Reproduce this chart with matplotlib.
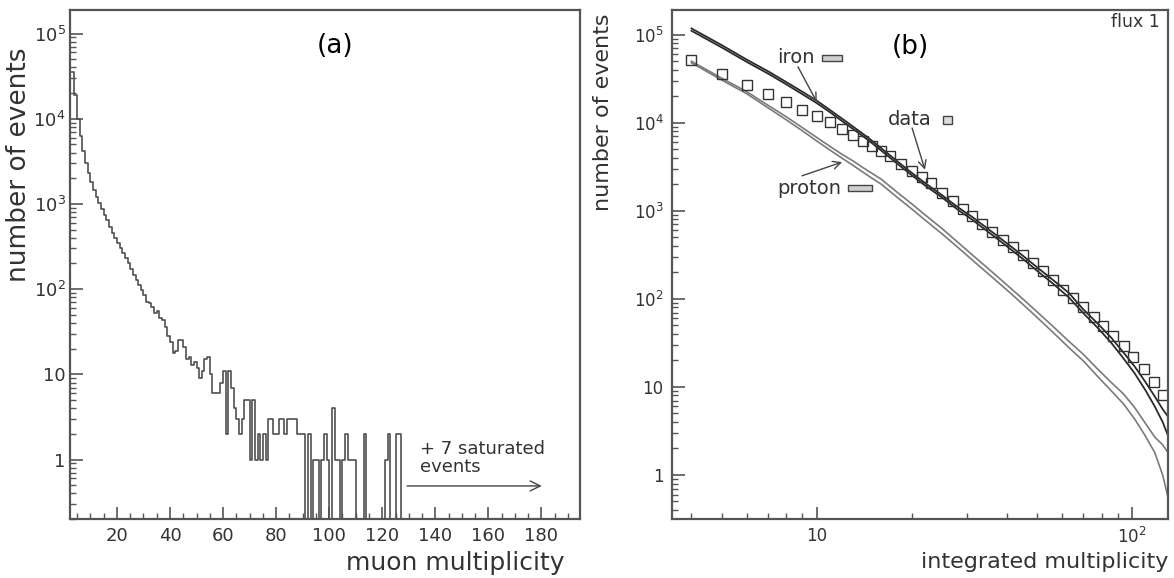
import numpy as np
import matplotlib
matplotlib.use("Agg")
import matplotlib.pyplot as plt
from matplotlib.patches import Rectangle
from matplotlib.ticker import FixedLocator, MultipleLocator, NullFormatter

# (a) muon multiplicity histogram, one bin per unit starting at 3
hist_first_bin = 3
hist_counts = [35000, 19000, 10000, 6200, 4200, 3000, 2300, 1800, 1450, 1200,
               1020, 880, 750, 640, 540, 460, 400, 345, 300, 262,
               230, 200, 172, 145, 128, 112, 98, 86, 70, 68,
               62, 53, 55, 46, 44, 36, 28, 24, 18, 19,
               25, 25, 21, 15, 16, 13, 14, 12, 9, 11,
               15, 16, 10, 6, 6, 6, 8, 11, 2, 11,
               7, 4, 3, 2, 3, 5, 5, 1, 5, 1,
               2, 1, 2, 1, 3, 3, 2, 2, 3, 3,
               2, 3, 3, 3, 3, 2, 2, 2, 0, 2,
               0, 1, 1, 0, 1, 2, 1, 0, 4, 1,
               1, 0, 1, 2, 1, 1, 1, 0, 0, 0,
               2, 0, 0, 0, 0, 0, 0, 0, 1, 2,
               0, 0, 2, 2]

# (b) integrated multiplicity: measured points
data_x = [4, 5, 6, 7, 8, 9, 10, 11, 12, 13, 14, 15, 16, 17, 18.5, 20, 21.5, 23,
          25, 27, 29, 31, 33.5, 36, 39, 42, 45, 48.5, 52, 56, 60.5, 65, 70,
          75.5, 81, 87, 94, 101, 109, 117, 125]
data_y = [52000, 36000, 27000, 21300, 17100, 14100, 11900, 10300, 8600, 7280,
          6240, 5400, 4730, 4160, 3420, 2850, 2410, 2060,
          1615, 1290, 1050, 870, 706, 581, 468, 384, 319, 257, 206, 162, 127, 101.5, 80.6,
          63, 49.3, 38.4, 28.9, 21.9, 16.1, 11.3, 8.1]

# simulated bands (upper / lower edge) for iron and proton primaries
sim_x = [4, 5, 6, 7, 8, 9, 10, 11, 12, 13, 14, 15, 16, 18, 20, 22, 25, 28, 31, 35,
         40, 45, 50, 56, 63, 70, 78, 86, 94, 102, 110, 118, 125, 130]
iron_hi = [118000, 76000, 52000, 38500, 29000, 22500, 17800, 14000, 11200, 9100,
           7500, 6200, 5150, 3650, 2700, 2080, 1500, 1100, 860, 620,
           430, 310, 228, 165, 117, 76, 52, 36, 24.5, 17, 11.5, 7.8, 5.6, 4.6]
iron_lo = [111000, 71500, 49000, 36200, 27300, 21100, 16700, 13200, 10500, 8550,
           7050, 5830, 4840, 3430, 2540, 1950, 1410, 1030, 800, 575,
           398, 285, 208, 150, 104, 69, 46.5, 31.5, 21, 14.2, 9.3, 6, 4, 2.8]
proton_hi = [50000, 32000, 22500, 15800, 11700, 8800, 6800, 5400, 4400, 3700,
             3100, 2650, 2290, 1620, 1200, 905, 625, 440, 320, 220,
             145, 100, 71, 49, 33, 23.5, 15.8, 11.2, 8.3, 5.8, 3.9, 2.7, 2.2, 1.8]
proton_lo = [48000, 30500, 21300, 14800, 10800, 8100, 6200, 4900, 3980, 3300,
             2750, 2330, 2010, 1420, 1050, 790, 545, 385, 280, 192,
             127, 87, 61.5, 42, 28, 19.8, 13, 9, 6.4, 4.3, 2.8, 1.8, 1.0, 0.56]

ink = "#333333"
frame = "#555555"

plt.rcParams['font.family'] = ['DejaVu Sans']

fig = plt.figure(figsize=(11.74, 5.78), dpi=100)
ax1 = fig.add_axes([0.0596, 0.102, 0.4344, 0.881])
ax2 = fig.add_axes([0.5724, 0.102, 0.4225, 0.881])


def style_frame(ax):
    for s in ax.spines.values():
        s.set_color(frame)
        s.set_linewidth(1.6)
    ax.tick_params(which='both', direction='in', color=frame, labelcolor=ink,
                   top=False, right=False)
    ax.tick_params(which='major', length=9, width=1.2)
    ax.tick_params(which='minor', length=4.5, width=1.0)


log_ticks = [1, 10, 100, 1e3, 1e4, 1e5]
log_labels = ['1', '10', '$10^2$', '$10^3$', '$10^4$', '$10^5$']

# ---- (a) histogram, empty bins drop to the bottom of the frame
counts = np.array(hist_counts, dtype=float)
edges = np.arange(hist_first_bin, hist_first_bin + len(counts) + 1)
heights = np.where(counts > 0, counts, 1e-3)
ax1.step(edges, np.append(heights, 1e-3), where='post', color='#505050', lw=1.2)

ax1.set_yscale('log')
ax1.set_xlim(2.3, 194.5)
ax1.set_ylim(0.2, 1.9e5)
ax1.xaxis.set_major_locator(FixedLocator(list(range(20, 181, 20))))
ax1.xaxis.set_minor_locator(MultipleLocator(5))
ax1.yaxis.set_major_locator(FixedLocator(log_ticks))
ax1.set_yticklabels(log_labels)
ax1.yaxis.set_minor_formatter(NullFormatter())
style_frame(ax1)
ax1.tick_params(axis='x', labelsize=13, pad=6)
ax1.tick_params(axis='y', labelsize=13, pad=3)

ax1.text(0.52, 0.929, '(a)', transform=ax1.transAxes, ha='center', va='center',
         fontsize=19, color='black')
ax1.text(0.686, 0.085, '+ 7 saturated\nevents', transform=ax1.transAxes,
         ha='left', va='bottom', fontsize=13, color=ink, linespacing=1.0)
ax1.annotate('', xy=(0.925, 0.065), xytext=(0.661, 0.065),
             xycoords='axes fraction',
             arrowprops=dict(arrowstyle='->', color='#444444', lw=1.0,
                             shrinkA=0, shrinkB=0, mutation_scale=18))

# ---- (b) integrated multiplicity
ax2.plot(sim_x, proton_hi, color='#7a7a7a', lw=1.2)
ax2.plot(sim_x, proton_lo, color='#7a7a7a', lw=1.2)
ax2.plot(sim_x, iron_hi, color='#2a2a2a', lw=1.3)
ax2.plot(sim_x, iron_lo, color='#2a2a2a', lw=1.3)
ax2.plot(data_x, data_y, 's', mfc='none', mec='#333333', ms=7.5, mew=1.0)

ax2.set_xscale('log')
ax2.set_yscale('log')
ax2.set_xlim(3.47, 130)
ax2.set_ylim(0.316, 1.92e5)
ax2.xaxis.set_major_locator(FixedLocator([10, 100]))
ax2.set_xticklabels(['10', '$10^2$'])
ax2.xaxis.set_minor_locator(FixedLocator([4, 5, 6, 7, 8, 9, 20, 30, 40, 50, 60, 70, 80, 90]))
ax2.xaxis.set_minor_formatter(NullFormatter())
ax2.yaxis.set_major_locator(FixedLocator(log_ticks))
ax2.set_yticklabels(log_labels)
ax2.yaxis.set_minor_formatter(NullFormatter())
style_frame(ax2)
ax2.tick_params(labelsize=12, pad=6)

ax2.text(0.48, 0.927, '(b)', transform=ax2.transAxes, ha='center', va='center',
         fontsize=19, color='black')
ax2.text(0.984, 0.976, 'flux 1', transform=ax2.transAxes, ha='right', va='center',
         fontsize=12.5, color=ink)

# labelled arrows with small key symbols
ax2.text(0.212, 0.906, 'iron', transform=ax2.transAxes, ha='left', va='center',
         fontsize=14, color=ink)
ax2.add_patch(Rectangle((0.302, 0.900), 0.041, 0.012, transform=ax2.transAxes,
                        fc='#cfcfcf', ec='#444444', lw=1.0))
ax2.text(0.435, 0.784, 'data', transform=ax2.transAxes, ha='left', va='center',
         fontsize=14, color=ink)
ax2.add_patch(Rectangle((0.547, 0.775), 0.018, 0.017, transform=ax2.transAxes,
                        fc='#dddddd', ec='#444444', lw=1.0))
ax2.text(0.212, 0.650, 'proton', transform=ax2.transAxes, ha='left', va='center',
         fontsize=14, color=ink)
ax2.add_patch(Rectangle((0.355, 0.644), 0.048, 0.012, transform=ax2.transAxes,
                        fc='#cfcfcf', ec='#444444', lw=1.0))

arrow = dict(arrowstyle='->', color='#444444', lw=1.0, shrinkA=0, shrinkB=0,
             mutation_scale=14)
ax2.annotate('', xy=(0.292, 0.819), xytext=(0.254, 0.888),
             xycoords='axes fraction', arrowprops=arrow)
ax2.annotate('', xy=(0.510, 0.686), xytext=(0.484, 0.768),
             xycoords='axes fraction', arrowprops=arrow)
ax2.annotate('', xy=(0.343, 0.701), xytext=(0.262, 0.674),
             xycoords='axes fraction', arrowprops=arrow)

# axis titles
fig.text(0.0165, 0.715, 'number of events', rotation=90, ha='center', va='center',
         fontsize=19, color=ink)
fig.text(0.481, 0.026, 'muon multiplicity', ha='right', va='center',
         fontsize=18, color=ink)
fig.text(0.5136, 0.806, 'number of events', rotation=90, ha='center', va='center',
         fontsize=16, color=ink)
fig.text(0.9949, 0.028, 'integrated multiplicity', ha='right', va='center',
         fontsize=16, color=ink)

fig.savefig('out.png', dpi=100, facecolor='white')
